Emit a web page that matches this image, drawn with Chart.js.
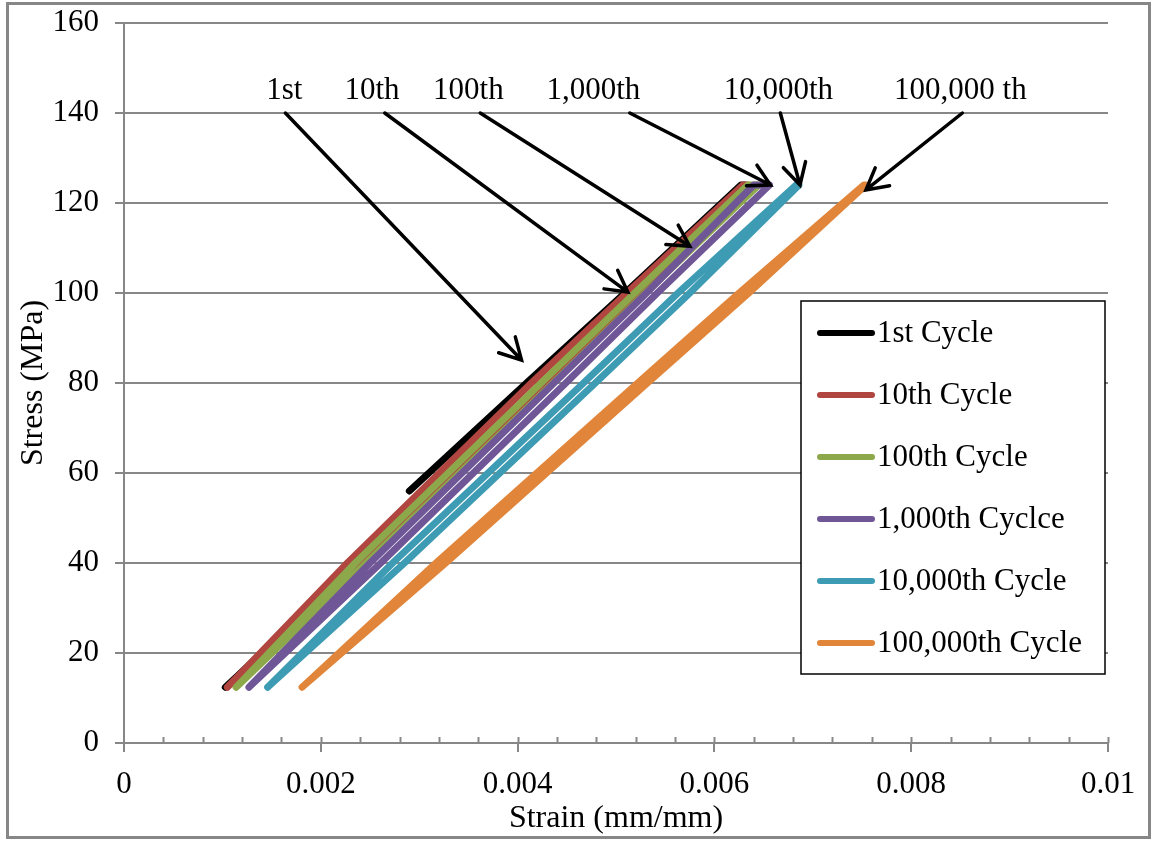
<!DOCTYPE html>
<html>
<head>
<meta charset="utf-8">
<script src="https://cdn.jsdelivr.net/npm/chart.js@4.4.1/dist/chart.umd.min.js"></script>
<style>
  html, body { margin: 0; padding: 0; background: #fff; }
  canvas { display: block; }
</style>
</head>
<body>
<canvas id="fatigueChart" width="1154" height="841"></canvas>
<script>
// Cycle names and colours (legend keeps the original spelling)
const cycleNames = ['1st Cycle', '10th Cycle', '100th Cycle', '1,000th Cyclce', '10,000th Cycle', '100,000th Cycle'];
const cycleColors = ['#000000', '#B0463F', '#8CA84B', '#6F5697', '#3D9BB4', '#E1853A'];

// 1st cycle starts part way up (mean load), goes to max, then unloads
const stress1st = [56, 80, 100, 124, 124, 100, 80, 40, 12.4];
const strain1st = [0.00290, 0.00409, 0.00509, 0.00627, 0.00631, 0.00525, 0.00428, 0.00238, 0.00103];

// other cycles: loading branch up, small creep at max, unloading branch down
const loopStress = [12.4, 40, 80, 100, 124, 124, 100, 80, 40, 12.4];
const strain10th = [0.00105, 0.00227, 0.00414, 0.00511, 0.00629, 0.00634, 0.00523, 0.00428, 0.00239, 0.00105];
const strain100th = [0.00114, 0.00235, 0.00424, 0.00519, 0.00634, 0.00645, 0.00530, 0.00436, 0.00246, 0.00114];
const strain1000th = [0.00127, 0.00250, 0.00437, 0.00531, 0.00640, 0.00656, 0.00542, 0.00449, 0.00261, 0.00127];
const strain10000th = [0.00146, 0.00273, 0.00467, 0.00563, 0.00683, 0.00686, 0.00575, 0.00479, 0.00285, 0.00146];
const strain100000th = [0.00181, 0.00317, 0.00522, 0.00625, 0.00752, 0.00754, 0.00635, 0.00532, 0.00327, 0.00181];

// arrow callouts
const calloutText = ['1st', '10th', '100th', '1,000th', '10,000th', '100,000 th'];
const calloutTextStrain = [0.00163, 0.00252, 0.00350, 0.00477, 0.00665, 0.00850];
const calloutTextStress = [145, 145, 145, 145, 145, 145];
const arrowTailStrain = [0.00164, 0.00265, 0.00362, 0.00514, 0.00667, 0.00852];
const arrowTailStress = [140, 140, 140, 140, 140, 140];
const arrowHeadStrain = [0.00404, 0.00512, 0.00575, 0.00657, 0.00687, 0.00754];
const arrowHeadStress = [85.1, 100.2, 110.4, 124, 124, 122.9];

// axes
const strainMax = 0.01;
const strainStep = 0.002;
const strainMinorStep = 0.0004;
const stressMax = 160;
const stressStep = 20;

const FONT = "'Liberation Serif', 'Times New Roman', serif";
const GRID = '#878787';

const cycleStrains = [strain1st, strain10th, strain100th, strain1000th, strain10000th, strain100000th];
const cycleStresses = [stress1st, loopStress, loopStress, loopStress, loopStress, loopStress];

const datasets = cycleNames.map((name, i) => ({
    label: name,
    data: cycleStrains[i].map((x, j) => ({ x: x, y: cycleStresses[i][j] })),
    borderColor: cycleColors[i],
    backgroundColor: cycleColors[i],
    borderWidth: 7,
    borderCapStyle: 'round',
    borderJoinStyle: 'round',
    pointRadius: 0,
    showLine: true,
    fill: false,
    tension: 0,
    order: cycleNames.length - i   // later cycles on top, like the original
}));

// grey frame round the whole picture
const frameBorder = {
    id: 'frameBorder',
    beforeDraw(chart) {
        const ctx = chart.ctx;
        ctx.save();
        ctx.fillStyle = '#fff';
        ctx.fillRect(0, 0, chart.width, chart.height);
        ctx.strokeStyle = '#878787';
        ctx.lineWidth = 3;
        ctx.strokeRect(7.5, 3.5, 1142, 834);
        ctx.restore();
    }
};

// small ticks sitting on top of the x axis
const minorTicks = {
    id: 'minorTicks',
    afterDraw(chart) {
        const xs = chart.scales.x;
        const ctx = chart.ctx;
        const n = Math.round(strainMax / strainMinorStep);
        ctx.save();
        ctx.strokeStyle = GRID;
        ctx.lineWidth = 2;
        for (let i = 1; i <= n; i++) {
            const px = Math.round(xs.getPixelForValue(i * strainMinorStep)) + 0.5;
            ctx.beginPath();
            ctx.moveTo(px, xs.top - 6);
            ctx.lineTo(px, xs.top);
            ctx.stroke();
        }
        ctx.restore();
    }
};

// labels with arrows pointing at each loop
const callouts = {
    id: 'callouts',
    afterDatasetsDraw(chart) {
        const xs = chart.scales.x, ys = chart.scales.y;
        const ctx = chart.ctx;
        ctx.save();
        ctx.fillStyle = '#000';
        ctx.strokeStyle = '#000';
        ctx.font = '31px ' + FONT;
        ctx.textAlign = 'center';
        ctx.textBaseline = 'middle';
        ctx.lineWidth = 3.5;
        ctx.lineCap = 'round';
        calloutText.forEach((t, i) => {
            ctx.fillText(t, xs.getPixelForValue(calloutTextStrain[i]), ys.getPixelForValue(calloutTextStress[i]));
            const x0 = xs.getPixelForValue(arrowTailStrain[i]), y0 = ys.getPixelForValue(arrowTailStress[i]);
            const x1 = xs.getPixelForValue(arrowHeadStrain[i]), y1 = ys.getPixelForValue(arrowHeadStress[i]);
            ctx.beginPath();
            ctx.moveTo(x0, y0);
            ctx.lineTo(x1, y1);
            const a = Math.atan2(y1 - y0, x1 - x0);
            const len = 24, spread = 0.5;
            ctx.moveTo(x1 - len * Math.cos(a - spread), y1 - len * Math.sin(a - spread));
            ctx.lineTo(x1, y1);
            ctx.lineTo(x1 - len * Math.cos(a + spread), y1 - len * Math.sin(a + spread));
            ctx.stroke();
        });
        ctx.restore();
    }
};

// boxed legend inside the plot
const boxLegend = {
    id: 'boxLegend',
    afterDraw(chart) {
        const ctx = chart.ctx;
        const left = 801, top = 301, w = 304, h = 373;
        ctx.save();
        ctx.fillStyle = '#fff';
        ctx.fillRect(left, top, w, h);
        ctx.strokeStyle = '#000';
        ctx.lineWidth = 1.5;
        ctx.strokeRect(left, top, w, h);
        ctx.font = '31px ' + FONT;
        ctx.textAlign = 'left';
        ctx.textBaseline = 'middle';
        ctx.lineCap = 'round';
        chart.data.datasets.forEach((ds, i) => {
            const y = top + 32 + i * 62;
            ctx.strokeStyle = ds.borderColor;
            ctx.lineWidth = 6;
            ctx.beginPath();
            ctx.moveTo(left + 19, y);
            ctx.lineTo(left + 71, y);
            ctx.stroke();
            ctx.fillStyle = '#000';
            ctx.fillText(ds.label, left + 76, y + 1);
        });
        ctx.restore();
    }
};

new Chart(document.getElementById('fatigueChart'), {
    type: 'scatter',
    data: { datasets: datasets },
    options: {
        responsive: false,
        animation: false,
        layout: { padding: { left: 0, top: 23, right: 46, bottom: 0 } },
        scales: {
            x: {
                type: 'linear',
                min: 0,
                max: strainMax,
                afterFit(scale) { scale.height = 98; },
                ticks: {
                    stepSize: strainStep,
                    color: '#000',
                    padding: 14,
                    font: { family: FONT, size: 31 },
                    callback: v => String(+v.toFixed(4))
                },
                grid: { display: true, drawOnChartArea: false, drawTicks: true, tickLength: 9, color: GRID, lineWidth: 2 },
                border: { display: true, color: GRID, width: 2 },
                title: { display: true, text: 'Strain (mm/mm)', color: '#000', font: { family: FONT, size: 32 }, padding: { top: 0, bottom: 3 } }
            },
            y: {
                min: 0,
                max: stressMax,
                afterFit(scale) {
                    scale.width = 124;
                    // keep the label padding from pushing the plot top down
                    scale.paddingTop = 0;
                    scale.paddingBottom = 0;
                },
                ticks: {
                    stepSize: stressStep,
                    color: '#000',
                    padding: 16,
                    font: { family: FONT, size: 31 }
                },
                grid: { color: GRID, lineWidth: 2, tickLength: 9, drawTicks: true },
                border: { display: true, color: GRID, width: 2 },
                title: { display: true, text: 'Stress (MPa)', color: '#000', font: { family: FONT, size: 32 }, padding: { top: 14, bottom: 0 } }
            }
        },
        plugins: {
            legend: { display: false },
            tooltip: { enabled: false }
        }
    },
    plugins: [frameBorder, minorTicks, callouts, boxLegend]
});
</script>
</body>
</html>
